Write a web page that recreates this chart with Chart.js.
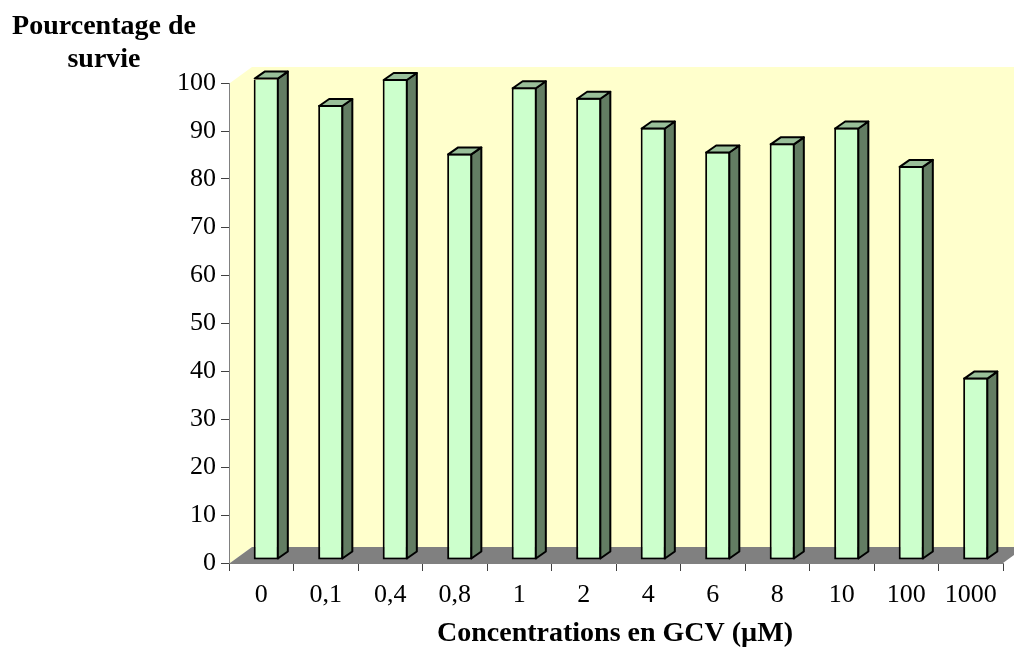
<!DOCTYPE html>
<html>
<head>
<meta charset="utf-8">
<script src="https://cdn.jsdelivr.net/npm/chart.js@4/dist/chart.umd.min.js"></script>
<style>
  html, body { margin: 0; padding: 0; background: #fff; }
  #wrap { width: 1014px; height: 652px; position: relative; }
</style>
</head>
<body>
<div id="wrap"><canvas id="survie"></canvas></div>
<script>
// GCV concentrations (µM) and survival percentages
const concentrations = ['0', '0,1', '0,4', '0,8', '1', '2', '4', '6', '8', '10', '100', '1000'];
const survie = [100.5, 94.8, 100.2, 84.7, 98.5, 96.3, 90.1, 85.1, 86.8, 90.1, 82.1, 38.0];
const yTicks = [0, 10, 20, 30, 40, 50, 60, 70, 80, 90, 100];

const serif = "'Liberation Serif', 'Times New Roman', serif";

// depth of the floor / walls and of each bar
const WALL_DX = 22, WALL_DY = 16;
const BAR_DX = 10, BAR_DY = 7;
const BAR_SHIFT_X = 5, BAR_SHIFT_Y = -3;

// yellow walls + grey floor behind everything
const walls = {
  id: 'walls',
  beforeDraw(chart) {
    const { ctx, chartArea: a } = chart;
    ctx.save();
    ctx.fillStyle = '#FFFFCC';
    // left wall
    ctx.beginPath();
    ctx.moveTo(a.left + 1, a.bottom);
    ctx.lineTo(a.left + 1, a.top);
    ctx.lineTo(a.left + 1 + WALL_DX, a.top - WALL_DY);
    ctx.lineTo(a.left + 1 + WALL_DX, a.bottom - WALL_DY);
    ctx.closePath();
    ctx.fill();
    // back wall
    ctx.fillRect(a.left + 1 + WALL_DX, a.top - WALL_DY, a.right - a.left + 20, a.bottom - a.top);
    // floor
    ctx.fillStyle = '#808080';
    ctx.beginPath();
    ctx.moveTo(a.left + 1, a.bottom);
    ctx.lineTo(a.left + 1 + WALL_DX, a.bottom - WALL_DY);
    ctx.lineTo(a.right + WALL_DX, a.bottom - WALL_DY);
    ctx.lineTo(a.right, a.bottom);
    ctx.closePath();
    ctx.fill();
    ctx.restore();
  }
};

// bars sit a little behind the axis plane; add side and top faces
const bars3d = {
  id: 'bars3d',
  beforeDatasetsDraw(chart) {
    chart.ctx.save();
    chart.ctx.translate(BAR_SHIFT_X, BAR_SHIFT_Y);
  },
  afterDatasetsDraw(chart) {
    const ctx = chart.ctx;
    ctx.lineWidth = 2;
    ctx.lineJoin = 'round';
    ctx.strokeStyle = '#000';
    chart.getDatasetMeta(0).data.forEach(bar => {
      const { x, y, base, width } = bar.getProps(['x', 'y', 'base', 'width']);
      const l = x - width / 2 + 1, r = x + width / 2 - 1;
      // side
      ctx.fillStyle = '#637D63';
      ctx.beginPath();
      ctx.moveTo(r, y + 1);
      ctx.lineTo(r + BAR_DX, y + 1 - BAR_DY);
      ctx.lineTo(r + BAR_DX, base - 1 - BAR_DY);
      ctx.lineTo(r, base - 1);
      ctx.closePath();
      ctx.fill();
      ctx.stroke();
      // top
      ctx.fillStyle = '#99BF99';
      ctx.beginPath();
      ctx.moveTo(l, y + 1);
      ctx.lineTo(l + BAR_DX, y + 1 - BAR_DY);
      ctx.lineTo(r + BAR_DX, y + 1 - BAR_DY);
      ctx.lineTo(r, y + 1);
      ctx.closePath();
      ctx.fill();
      ctx.stroke();
    });
    ctx.restore();
  }
};

// axis titles
const titles = {
  id: 'titles',
  afterDraw(chart) {
    const ctx = chart.ctx;
    ctx.save();
    ctx.fillStyle = '#000';
    ctx.font = 'bold 28px ' + serif;
    ctx.textAlign = 'center';
    ctx.textBaseline = 'middle';
    ctx.fillText('Pourcentage de', 104, 27);
    ctx.fillText('survie', 104, 60);
    ctx.fillText('Concentrations en GCV (µM)', 615, 634);
    ctx.restore();
  }
};

const ctx = document.getElementById('survie').getContext('2d');
new Chart(ctx, {
  type: 'bar',
  plugins: [walls, bars3d, titles],
  data: {
    labels: concentrations,
    datasets: [{
      label: 'Pourcentage de survie',
      data: survie,
      backgroundColor: '#CCFFCC',
      borderColor: '#000',
      borderWidth: 2,
      borderSkipped: false,
      categoryPercentage: 1,
      barPercentage: 0.39
    }]
  },
  options: {
    responsive: true,
    maintainAspectRatio: false,
    animation: false,
    layout: { padding: { top: 83, right: 11, left: 0, bottom: 0 } },
    plugins: {
      legend: { display: false },
      tooltip: { enabled: false }
    },
    scales: {
      x: {
        afterFit(scale) { scale.height = 89; },
        grid: { display: true, drawOnChartArea: false, tickLength: 8, color: '#404040', lineWidth: 1 },
        border: { display: true, color: '#808080', width: 1 },
        ticks: { color: '#000', font: { family: serif, size: 26 }, padding: 9, maxRotation: 0, autoSkip: false }
      },
      y: {
        min: 0,
        max: 100,
        afterFit(scale) { scale.width = 229; },
        afterBuildTicks(scale) { scale.ticks = yTicks.map(v => ({ value: v })); },
        grid: { display: true, drawOnChartArea: false, tickLength: 8, color: '#404040', lineWidth: 1 },
        border: { display: true, color: '#808080', width: 1 },
        ticks: { color: '#000', font: { family: serif, size: 26 }, padding: 5 }
      }
    }
  }
});
</script>
</body>
</html>
